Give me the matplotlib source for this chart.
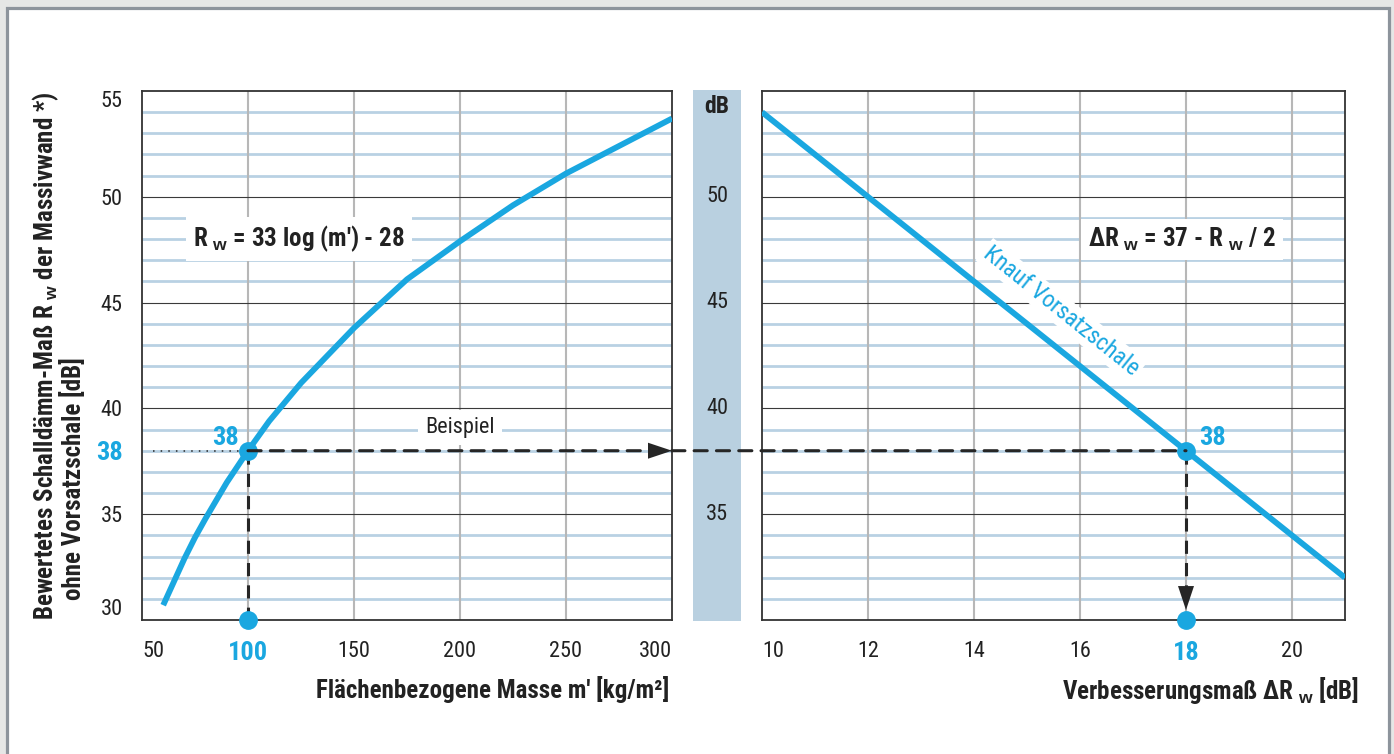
import matplotlib
matplotlib.use("Agg")
import matplotlib.pyplot as plt
from matplotlib.patches import Rectangle, ConnectionPatch
from matplotlib import font_manager

# ---------------- data ----------------
mass = [60, 65, 70, 75, 80, 90, 100, 110, 125, 150, 175, 200, 225, 250, 275, 300]
rw_mass = [30.7, 31.8, 32.9, 33.9, 34.8, 36.5, 38.0, 39.4, 41.2, 43.8, 46.1, 47.9, 49.6, 51.1, 52.4, 53.7]
delta_rw = [10, 21]
rw_delta = [54.0, 32.0]
example_mass = 100
example_rw = 38
example_delta = 18
left_xticks = [50, 100, 150, 200, 250, 300]
right_xticks = [10, 12, 14, 16, 18, 20]
y_ticks = [30, 35, 38, 40, 45, 50, 55]
y_major = [35, 40, 45, 50]
db_labels = [50, 45, 40, 35]

# ---------------- fonts: prefer a condensed sans ----------------
fl = font_manager.fontManager.ttflist
names = {f.name for f in fl}
COND = ('condensed', 'semi-condensed', 'extra-condensed', 'ultra-condensed')
chosen, stretch = None, 'normal'
for pref in ['Liberation Sans Narrow', 'Arial Narrow', 'Roboto Condensed', 'Open Sans Condensed',
             'Noto Sans Condensed', 'DejaVu Sans Condensed']:
    if pref in names:
        chosen = pref
        break
if chosen is None:
    for fam in ['Roboto', 'Noto Sans', 'Open Sans', 'DejaVu Sans', 'Liberation Sans', 'Lato', 'Inter']:
        hits = [f for f in fl if f.name == fam and str(f.stretch) in COND]
        if hits:
            chosen = fam
            st = [str(h.stretch) for h in hits]
            stretch = 'condensed' if 'condensed' in st else st[0]
            break
if chosen is None:
    chosen = 'Liberation Sans'
FONT = [chosen, 'Liberation Sans', 'DejaVu Sans']
plt.rcParams['font.family'] = FONT
plt.rcParams['font.stretch'] = stretch
plt.rcParams['mathtext.fontset'] = 'custom'
plt.rcParams['mathtext.rm'] = 'Liberation Sans'
plt.rcParams['mathtext.bf'] = 'Liberation Sans:bold'
plt.rcParams['mathtext.it'] = 'Liberation Sans'

BLUE = '#1aa7e0'
MINOR = '#b9d1e3'
VGRID = '#b7b7b7'
DARK = '#262626'
TXT = '#222222'

W, H = 1394, 754
fig = plt.figure(figsize=(W / 100, H / 100), dpi=100)
fig.patch.set_facecolor('#e6e7e6')
fig.add_artist(Rectangle((6.5 / W, -0.02), (1389 - 6.5) / W, 1.02 - 8.3 / H,
                         transform=fig.transFigure, facecolor='white',
                         edgecolor='#8d949c', lw=2.3, zorder=0))

def ax_rect(x0, x1, y0=91, y1=620):
    return [x0 / W, 1 - y1 / H, (x1 - x0) / W, (y1 - y0) / H]

axL = fig.add_axes(ax_rect(142, 672))
axR = fig.add_axes(ax_rect(762, 1345))
axB = fig.add_axes(ax_rect(693, 741, 90, 621))

for ax, xlim, vlines in ((axL, (50, 300), left_xticks[1:-1]), (axR, (10, 21), right_xticks[1:])):
    ax.set_xlim(*xlim)
    ax.set_ylim(30, 55)
    for v in range(31, 55):
        if v % 5:
            ax.axhline(v, color=MINOR, lw=2.0, zorder=1)
    for x in vlines:
        ax.axvline(x, color=VGRID, lw=1.5, zorder=1.5)
    for v in y_major:
        ax.axhline(v, color='#3a3a3a', lw=0.8, zorder=2)
    for s in ax.spines.values():
        s.set_color('#333333')
        s.set_linewidth(1.3)
    ax.tick_params(length=0)

TICK_FS = 16
BIG_FS = 19

# ---------------- ticks ----------------
axL.set_xticks(left_xticks, [str(v) for v in left_xticks], fontsize=TICK_FS, color=TXT)
axL.tick_params(axis='x', pad=15)
xl = axL.get_xticklabels()
xl[0].set_ha('left'); xl[-1].set_ha('right')
for lab, v in zip(xl, left_xticks):
    if v == example_mass:
        lab.set_color(BLUE); lab.set_fontweight('bold'); lab.set_fontsize(BIG_FS)

axR.set_xticks(right_xticks, [str(v) for v in right_xticks], fontsize=TICK_FS, color=TXT)
axR.tick_params(axis='x', pad=15)
xr = axR.get_xticklabels()
xr[0].set_ha('left')
for lab, v in zip(xr, right_xticks):
    if v == example_delta:
        lab.set_color(BLUE); lab.set_fontweight('bold'); lab.set_fontsize(BIG_FS)
axR.set_yticks([])

axL.set_yticks(y_ticks, [str(v) for v in y_ticks], fontsize=TICK_FS, color=TXT)
axL.tick_params(axis='y', pad=14)
yl = axL.get_yticklabels()
for lab, v in zip(yl, y_ticks):
    if v == 55:
        lab.set_va('top')
    if v == 30:
        lab.set_va('bottom')
    if v == example_rw:
        lab.set_color(BLUE); lab.set_fontweight('bold'); lab.set_fontsize(BIG_FS)

# ---------------- dB bar ----------------
axB.set_facecolor('#b9d0e0')
for s in axB.spines.values():
    s.set_visible(False)
axB.set_xticks([]); axB.set_yticks([])
axB.set_xlim(0, 1); axB.set_ylim(30, 55)
axB.text(0.5, 54.2, 'dB', ha='center', va='center', fontsize=17, fontweight='bold', color=TXT)
for v in db_labels:
    axB.text(0.5, v, str(v), ha='center', va='center', fontsize=TICK_FS, color=TXT)

# ---------------- curves ----------------
axL.plot(mass, rw_mass, color=BLUE, lw=4.2, solid_capstyle='butt', solid_joinstyle='round', zorder=4)
axR.plot(delta_rw, rw_delta, color=BLUE, lw=4.2, solid_capstyle='butt', zorder=4)

# ---------------- example path ----------------
DASH = (0, (4.3, 3))
con = ConnectionPatch(xyA=(example_mass, example_rw), coordsA=axL.transData,
                      xyB=(example_delta, example_rw), coordsB=axR.transData,
                      color=DARK, lw=2.2, linestyle=DASH, zorder=5)
fig.add_artist(con)
axL.plot([example_mass, example_mass], [example_rw, 30], color=DARK, lw=2.2,
         linestyle=DASH, zorder=5, clip_on=False)
axR.plot([example_delta, example_delta], [example_rw, 31], color=DARK, lw=2.2,
         linestyle=DASH, zorder=5, clip_on=False)
axL.plot([55, example_mass], [example_rw, example_rw], color=DARK, lw=1.1,
         linestyle=(0, (1, 4)), zorder=3)

arrow = dict(arrowstyle='-|>,head_length=1.08,head_width=0.36', mutation_scale=16,
             color=DARK, lw=0, shrinkA=0, shrinkB=0)
axL.annotate('', xy=(300, example_rw), xytext=(290, example_rw), arrowprops=arrow,
             annotation_clip=False, zorder=6)
axR.annotate('', xy=(example_delta, 30.47), xytext=(example_delta, 31.5), arrowprops=arrow,
             annotation_clip=False, zorder=6)

axL.plot([example_mass, example_mass], [example_rw, 30], 'o', ms=12.5, color=BLUE,
         zorder=7, clip_on=False)
axR.plot([example_delta, example_delta], [example_rw, 30], 'o', ms=12.5, color=BLUE,
         zorder=7, clip_on=False)

axL.text(95.5, 38.6, str(example_rw), ha='right', va='center', fontsize=BIG_FS,
         fontweight='bold', color=BLUE, zorder=8)
axR.text(18.25, 38.6, str(example_rw), ha='left', va='center', fontsize=BIG_FS,
         fontweight='bold', color=BLUE, zorder=8)

# ---------------- annotations ----------------
box = dict(facecolor='white', edgecolor='none', pad=5)
axL.text(74, 48, r"R $_\mathbf{w}$ = 33 log (m') - 28", ha='left', va='center',
         fontsize=18, fontweight='bold', color=TXT, bbox=box, zorder=3)
axL.text(200, 39.1, 'Beispiel', ha='center', va='center', fontsize=16,
         color=TXT, bbox=box, zorder=3)
axR.text(16.15, 48, r"ΔR $_\mathbf{w}$ = 37 - R $_\mathbf{w}$ / 2", ha='left', va='center',
         fontsize=18, fontweight='bold', color=TXT, bbox=box, zorder=3)
axR.text(15.65, 44.6, 'Knauf Vorsatzschale', ha='center', va='center', fontsize=17,
         color=BLUE, rotation=-38.7, rotation_mode='anchor',
         bbox=dict(facecolor='white', edgecolor='none', pad=2), zorder=3)

# ---------------- axis titles ----------------
fig.text(669 / W, 1 - 690 / H, "Flächenbezogene Masse m' [kg/m²]", ha='right', va='center',
         fontsize=18, fontweight='bold', color=TXT)
fig.text(1359 / W, 1 - 690 / H, r"Verbesserungsmaß ΔR $_\mathbf{w}$ [dB]", ha='right',
         va='center', fontsize=18, fontweight='bold', color=TXT)
fig.text(46 / W, 1 - 620 / H, r"Bewertetes Schalldämm-Maß R $_\mathbf{w}$ der Massivwand *)",
         ha='left', va='center', rotation=90, rotation_mode='anchor',
         fontsize=18, fontweight='bold', color=TXT)
fig.text(73 / W, 1 - 600 / H, "ohne Vorsatzschale [dB]",
         ha='left', va='center', rotation=90, rotation_mode='anchor',
         fontsize=18, fontweight='bold', color=TXT)

fig.savefig('out.png', dpi=100, facecolor=fig.get_facecolor())
